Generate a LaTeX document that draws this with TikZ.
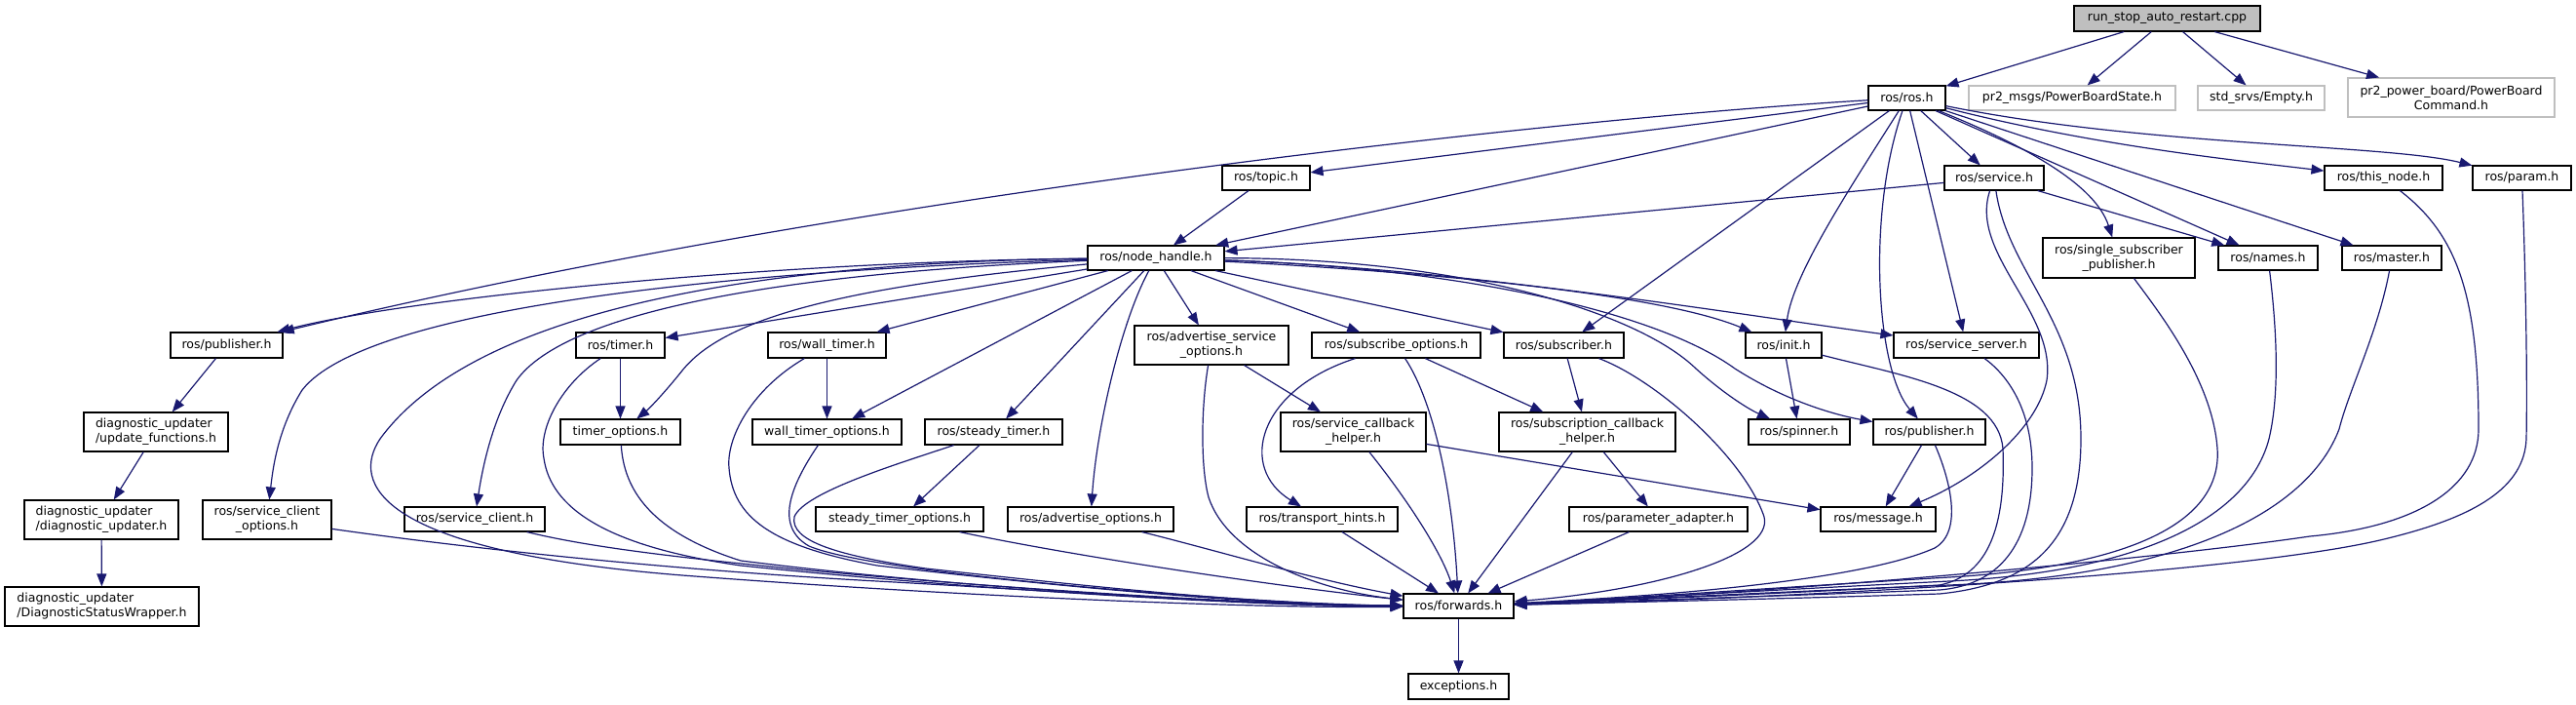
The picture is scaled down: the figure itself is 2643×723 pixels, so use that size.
\documentclass[tikz,border=0pt]{standalone}
\usepackage{fontspec}
\setmainfont{DejaVu Sans}
\usetikzlibrary{arrows.meta}
\definecolor{edgeblue}{HTML}{191970}
\definecolor{greyline}{HTML}{BFBFBF}
\tikzset{
 box/.style={draw=black, line width=1.1pt, fill=white, inner sep=0pt, align=center, font=\fontsize{12.5}{15}\selectfont},
 extbox/.style={box, draw=greyline},
 rootbox/.style={box, fill=greyline},
 leftbox/.style={box, align=left},
 edge/.style={draw=edgeblue, line width=1.2pt, -{Triangle[length=13pt,width=10pt]}},
}
\newcommand\bx[7][box]{\node[#1, minimum width=#5pt, minimum height=#6pt] (#2) at (#3,#4) {#7};}
\begin{document}
\begin{tikzpicture}[x=1pt,y=-1pt]
\useasboundingbox (0,0) rectangle (2643,723);
% nodes
\bx[rootbox]{top}{2223.5}{19}{191}{26}{run\_stop\_auto\_restart.cpp}
\bx{rosh}{1956.5}{100.5}{79}{25}{ros/ros.h}
\bx[extbox]{pbs}{2126}{100.5}{212}{25}{pr2\_msgs/PowerBoardState.h}
\bx[extbox]{empty}{2320}{100.5}{130}{25}{std\_srvs/Empty.h}
\bx[extbox]{pbc}{2515}{100}{212}{40}{pr2\_power\_board/PowerBoard\\Command.h}
\bx{topic}{1299}{182.5}{90}{25}{ros/topic.h}
\bx{service}{2046}{182.5}{102}{25}{ros/service.h}
\bx{thisnode}{2445.5}{182.5}{121}{25}{ros/this\_node.h}
\bx{param}{2587.5}{182.5}{101}{25}{ros/param.h}
\bx{nh}{1186}{264.5}{140}{25}{ros/node\_handle.h}
\bx{ssp}{2174}{264.5}{156}{41}{ros/single\_subscriber\\\_publisher.h}
\bx{names}{2327}{264.5}{102}{25}{ros/names.h}
\bx{master}{2454}{264.5}{102}{25}{ros/master.h}
\bx{pubL}{232.5}{354}{115}{26}{ros/publisher.h}
\bx{timer}{636.5}{354}{91}{26}{ros/timer.h}
\bx{walltimer}{848.5}{354}{121}{26}{ros/wall\_timer.h}
\bx{aso}{1243}{354}{158}{40}{ros/advertise\_service\\\_options.h}
\bx{subopt}{1432.5}{354}{173}{26}{ros/subscribe\_options.h}
\bx{subscriber}{1604.5}{354}{123}{26}{ros/subscriber.h}
\bx{init}{1830}{354}{78}{26}{ros/init.h}
\bx{ssrv}{2017.5}{354}{149}{26}{ros/service\_server.h}
\bx[leftbox]{updfn}{160}{443}{148}{40}{diagnostic\_updater\\/update\_functions.h}
\bx{timeropt}{636.5}{443}{123}{26}{timer\_options.h}
\bx{wto}{848.5}{443}{153}{26}{wall\_timer\_options.h}
\bx{steady}{1019.5}{443}{141}{26}{ros/steady\_timer.h}
\bx{sch}{1388.5}{443}{149}{40}{ros/service\_callback\\\_helper.h}
\bx{subch}{1628.5}{443}{181}{40}{ros/subscription\_callback\\\_helper.h}
\bx{spinner}{1846}{443}{104}{26}{ros/spinner.h}
\bx{pubR}{1979.5}{443}{115}{26}{ros/publisher.h}
\bx[leftbox]{diagup}{104}{533}{158}{40}{diagnostic\_updater\\/diagnostic\_updater.h}
\bx{sco}{274}{533}{132}{40}{ros/service\_client\\\_options.h}
\bx{sclient}{487}{532.5}{144}{25}{ros/service\_client.h}
\bx{sto}{923}{532.5}{172}{25}{steady\_timer\_options.h}
\bx{advopt}{1119}{532.5}{170}{25}{ros/advertise\_options.h}
\bx{th}{1356.5}{532.5}{155}{25}{ros/transport\_hints.h}
\bx{padapt}{1701.5}{532.5}{183}{25}{ros/parameter\_adapter.h}
\bx{message}{1927}{532.5}{118}{25}{ros/message.h}
\bx[leftbox]{dsw}{104.5}{622}{199}{40}{diagnostic\_updater\\/DiagnosticStatusWrapper.h}
\bx{forwards}{1496.5}{621.5}{113}{25}{ros/forwards.h}
\bx{exceptions}{1496.5}{704}{103}{26}{exceptions.h}
% edges from the root
\draw[edge] (top) -- (rosh);
\draw[edge] (top) -- (pbs);
\draw[edge] (top) -- (empty);
\draw[edge] (top) -- (pbc);
% ros.h
\draw[edge] (rosh) .. controls (1650,118) and (900,193) .. (pubL);
\draw[edge] (rosh) -- (nh);
\draw[edge] (rosh) -- (topic);
\draw[edge] (rosh) -- (subscriber);
\draw[edge] (rosh) .. controls (1900,190) and (1840,280) .. (init);
\draw[edge] (rosh) .. controls (1915,220) and (1925,380) .. (pubR);
\draw[edge] (rosh) -- (ssrv);
\draw[edge] (rosh) -- (service);
\draw[edge] (rosh) .. controls (2080,150) and (2150,190) .. (ssp);
\draw[edge] (rosh) -- (names);
\draw[edge] (rosh) -- (master);
\draw[edge] (rosh) .. controls (2150,150) and (2300,165) .. (thisnode);
\draw[edge] (rosh) .. controls (2200,150) and (2450,148) .. (param);
% topic, service
\draw[edge] (topic) -- (nh);
\draw[edge] (service) -- (nh);
\draw[edge] (service) -- (names);
\draw[edge] (service) .. controls (2020,260) and (2110,320) .. (2100,390) .. controls (2090,440) and (2030,490) .. (message);
\draw[edge] (service) .. controls (2060,280) and (2135,330) .. (2135,450) .. controls (2135,560) and (2080,600) .. (1990,609) .. controls (1800,615) and (1650,618) .. (forwards);
% node_handle.h
\draw[edge] (nh) .. controls (800,268) and (420,305) .. (pubL);
\draw[edge] (nh) .. controls (800,275) and (380,310) .. (310,400) .. controls (285,440) and (280,480) .. (sco);
\draw[edge] (nh) .. controls (850,268) and (500,300) .. (390,450) .. controls (360,495) and (385,565) .. (700,590) .. controls (1000,613) and (1300,624) .. (forwards);
\draw[edge] (nh) .. controls (800,280) and (580,320) .. (530,390) .. controls (505,430) and (495,480) .. (sclient);
\draw[edge] (nh) -- (timer);
\draw[edge] (nh) .. controls (850,295) and (740,330) .. (700,380) .. controls (680,405) and (665,420) .. (timeropt);
\draw[edge] (nh) -- (walltimer);
\draw[edge] (nh) -- (wto);
\draw[edge] (nh) -- (steady);
\draw[edge] (nh) .. controls (1150,330) and (1125,440) .. (advopt);
\draw[edge] (nh) -- (aso);
\draw[edge] (nh) -- (subopt);
\draw[edge] (nh) -- (subscriber);
\draw[edge] (nh) .. controls (1450,278) and (1700,300) .. (init);
\draw[edge] (nh) .. controls (1500,275) and (1800,325) .. (ssrv);
\draw[edge] (nh) .. controls (1500,265) and (1680,320) .. (1740,378) .. controls (1770,405) and (1795,420) .. (spinner);
\draw[edge] (nh) .. controls (1500,275) and (1700,320) .. (1780,378) .. controls (1830,410) and (1880,425) .. (pubR);
% diagnostic chain
\draw[edge] (pubL) -- (updfn);
\draw[edge] (updfn) -- (diagup);
\draw[edge] (diagup) -- (dsw);
% timers
\draw[edge] (timer) -- (timeropt);
\draw[edge] (walltimer) -- (wto);
\draw[edge] (steady) -- (sto);
\draw[edge] (timer) .. controls (575,395) and (552,440) .. (558,470) .. controls (565,520) and (620,560) .. (760,580) .. controls (1000,605) and (1300,622) .. (forwards);
\draw[edge] (timeropt) .. controls (640,500) and (665,545) .. (760,575) .. controls (1000,605) and (1300,621) .. (forwards);
\draw[edge] (sco) .. controls (500,565) and (700,585) .. (900,596) .. controls (1100,607) and (1300,622) .. (forwards);
\draw[edge] (sclient) .. controls (600,560) and (680,570) .. (800,582) .. controls (1000,602) and (1300,621) .. (forwards);
\draw[edge] (walltimer) .. controls (770,400) and (745,450) .. (748,480) .. controls (752,530) and (790,560) .. (900,580) .. controls (1100,603) and (1300,621) .. (forwards);
\draw[edge] (wto) .. controls (810,500) and (795,540) .. (830,560) .. controls (900,590) and (1300,620) .. (forwards);
\draw[edge] (steady) .. controls (920,476) and (825,505) .. (815,530) .. controls (810,555) and (860,570) .. (950,583) .. controls (1150,605) and (1300,620) .. (forwards);
\draw[edge] (sto) .. controls (1100,570) and (1300,600) .. (forwards);
\draw[edge] (advopt) .. controls (1250,565) and (1350,595) .. (forwards);
% options and helpers
\draw[edge] (aso) -- (sch);
\draw[edge] (aso) .. controls (1232,420) and (1232,480) .. (1240,510) .. controls (1260,570) and (1350,605) .. (forwards);
\draw[edge] (subopt) -- (subch);
\draw[edge] (subopt) .. controls (1290,400) and (1270,480) .. (th);
\draw[edge] (subopt) .. controls (1470,410) and (1490,500) .. (forwards);
\draw[edge] (subscriber) -- (subch);
\draw[edge] (subscriber) .. controls (1700,390) and (1790,470) .. (1810,530) .. controls (1820,570) and (1700,605) .. (forwards);
\draw[edge] (th) -- (forwards);
\draw[edge] (sch) -- (message);
\draw[edge] (sch) .. controls (1450,520) and (1480,570) .. (forwards);
\draw[edge] (subch) -- (padapt);
\draw[edge] (subch) -- (forwards);
\draw[edge] (padapt) -- (forwards);
\draw[edge] (init) -- (spinner);
\draw[edge] (init) .. controls (1950,385) and (2050,400) .. (2055,460) .. controls (2058,540) and (2040,590) .. (1990,600) .. controls (1800,610) and (1650,616) .. (forwards);
\draw[edge] (pubR) -- (message);
\draw[edge] (pubR) .. controls (2000,490) and (2015,545) .. (1985,562) .. controls (1900,600) and (1650,614) .. (forwards);
\draw[edge] (ssrv) .. controls (2060,385) and (2085,420) .. (2085,480) .. controls (2085,560) and (2050,600) .. (1990,605) .. controls (1800,612) and (1650,617) .. (forwards);
% right-hand headers to forwards
\draw[edge] (ssp) .. controls (2215,320) and (2270,390) .. (2275,460) .. controls (2280,530) and (2200,580) .. (2000,592) .. controls (1800,604) and (1650,615) .. (forwards);
\draw[edge] (names) .. controls (2335,330) and (2340,400) .. (2328,450) .. controls (2310,520) and (2220,585) .. (2000,596) .. controls (1800,606) and (1650,615) .. (forwards);
\draw[edge] (master) .. controls (2440,340) and (2410,400) .. (2400,440) .. controls (2370,520) and (2250,590) .. (2000,600) .. controls (1800,608) and (1650,616) .. (forwards);
\draw[edge] (thisnode) .. controls (2520,240) and (2543,300) .. (2543,440) .. controls (2543,500) and (2480,540) .. (2370,550) .. controls (2200,575) and (1800,610) .. (forwards);
\draw[edge] (param) .. controls (2592,300) and (2593,400) .. (2592,450) .. controls (2590,500) and (2540,530) .. (2450,552) .. controls (2300,590) and (1800,615) .. (forwards);
\draw[edge] (forwards) -- (exceptions);
\end{tikzpicture}
\end{document}
